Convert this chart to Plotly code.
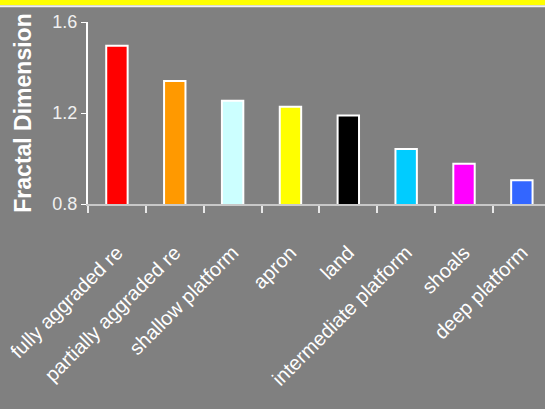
import plotly.graph_objects as go

categories = ["fully aggraded re", "partially aggraded re", "shallow platform", "apron",
              "land", "intermediate platform", "shoals", "deep platform"]
values = [1.496, 1.341, 1.254, 1.228, 1.189, 1.042, 0.977, 0.904]
colors = ["#FF0000", "#FF9900", "#CCFFFF", "#FFFF00", "#000000", "#00CCFF", "#FF00FF", "#3366FF"]
y_ticks = [0.8, 1.2, 1.6]
y_tick_labels = ["0.8", "1.2", "1.6"]

BG = "#808080"
FONT = "Liberation Sans, Arial, sans-serif"

fig = go.Figure(go.Bar(
    x=categories, y=values,
    marker=dict(color=colors, line=dict(color="white", width=2)),
    width=0.37,
))

W, H = 545, 409
top, bottom_px, left = 22.3, 204.3, 88.3
plot_h = bottom_px - top

def py(p):
    return (bottom_px - p) / plot_h

fig.update_layout(
    width=W, height=H,
    margin=dict(l=left, r=0, t=top, b=H - bottom_px, pad=0),
    paper_bgcolor=BG, plot_bgcolor=BG,
    showlegend=False,
    font=dict(family=FONT, color="white", size=17),
    shapes=[
        dict(type="rect", xref="paper", yref="paper", x0=-0.3, x1=1.1, y0=py(5.5), y1=py(-2),
             fillcolor="#FFFF00", line=dict(width=0), layer="above"),
        dict(type="rect", xref="paper", yref="paper", x0=-0.3, x1=1.1, y0=py(7.5), y1=py(5.5),
             fillcolor="#F0F0F0", line=dict(width=0), layer="above"),
    ],
)
fig.update_xaxes(
    range=[-0.5, 7.4],
    showgrid=False, zeroline=False,
    showline=True, linecolor="#C8C8C8", linewidth=2,
    ticks="outside", tickson="boundaries", ticklen=7, tickcolor="#E8E8E8", tickwidth=2,
    tickangle=-45, tickfont=dict(size=20, color="white", family=FONT),
    ticklabelstandoff=27,
)
fig.update_yaxes(
    range=[0.8, 1.6],
    tickvals=y_ticks, ticktext=y_tick_labels,
    showgrid=False, zeroline=False,
    showline=True, linecolor="white", linewidth=2,
    ticks="outside", ticklen=5, tickcolor="white", tickwidth=1,
    tickfont=dict(size=18, color="#F0F0F0", family=FONT),
    title=dict(text="<b>Fractal Dimension</b>", font=dict(size=23, color="white", family=FONT), standoff=14),
)

fig.write_html(
    "out.html",
    config={"displayModeBar": False},
    post_script="document.body.style.margin='0';document.body.style.overflow='hidden';",
)
